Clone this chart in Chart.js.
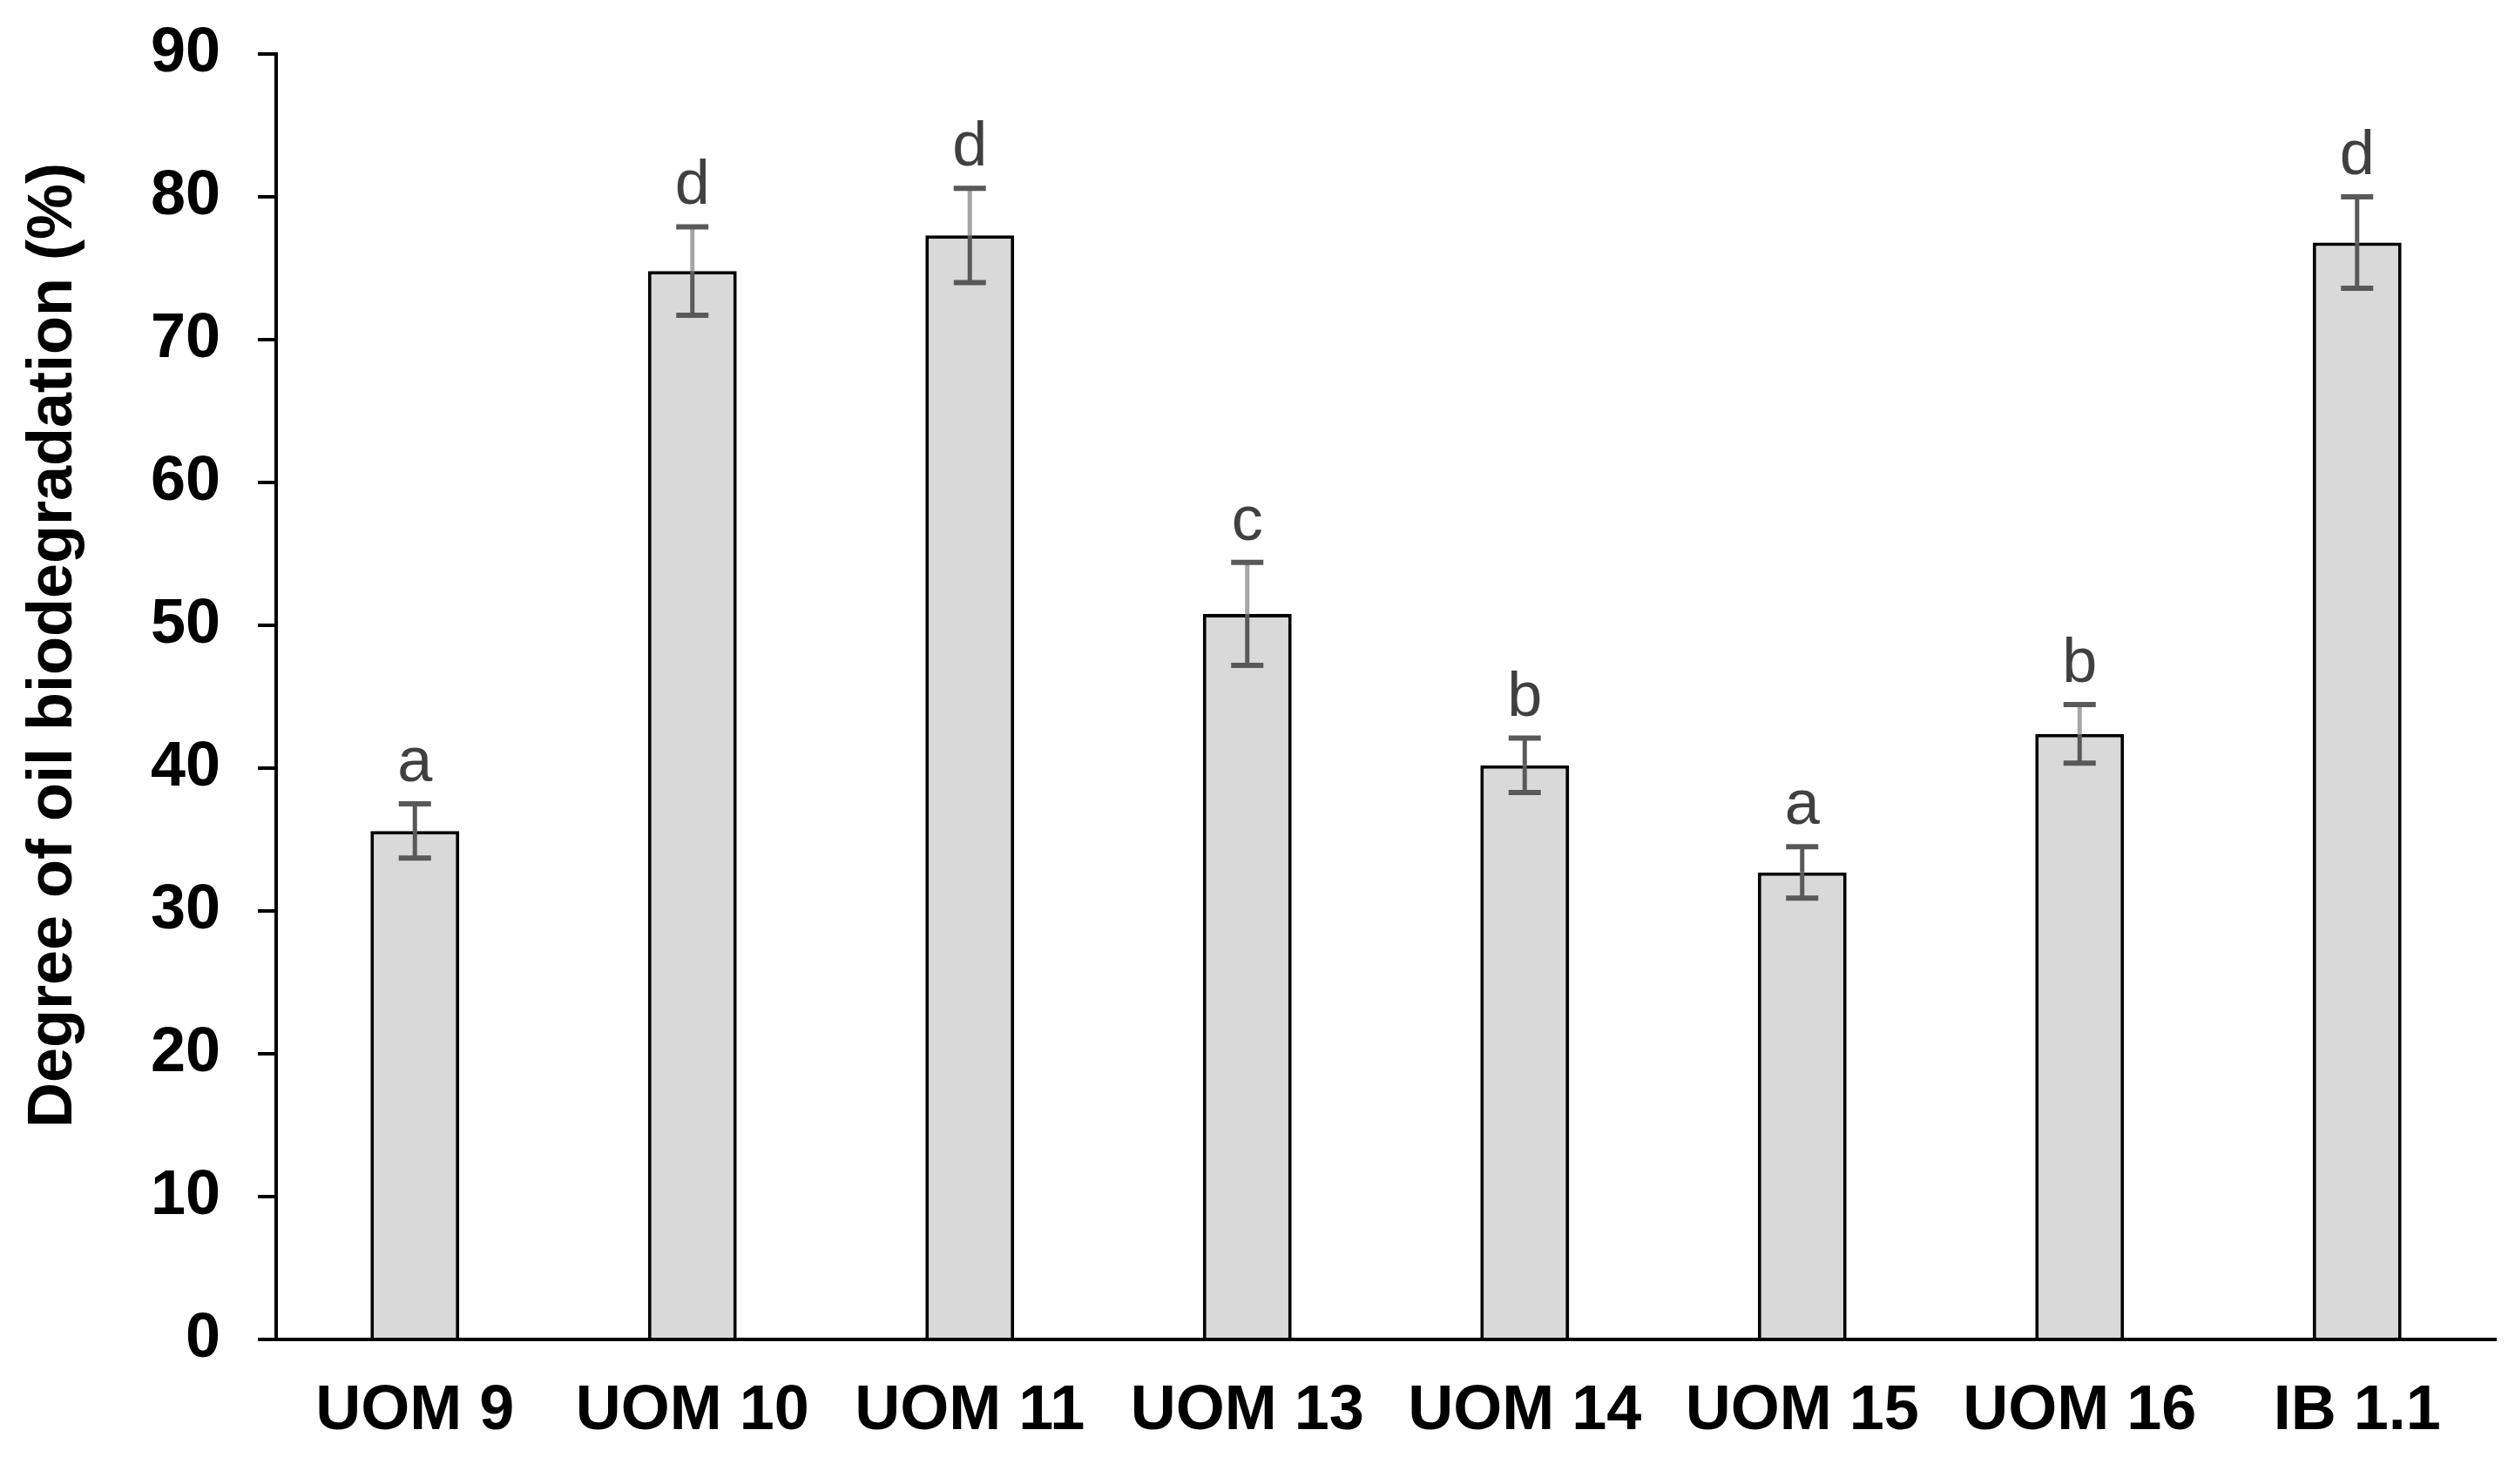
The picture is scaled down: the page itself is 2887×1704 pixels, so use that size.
<!DOCTYPE html>
<html lang="en">
<head>
    <meta charset="UTF-8">
    <title>Degree of oil biodegradation</title>
    <style>
        * { margin: 0; padding: 0; box-sizing: border-box; }
        body { background: #fff; width: 2887px; height: 1704px; overflow: hidden; }
        #chart { display: block; }
    </style>
</head>
<body>
    <canvas id="chart" width="2887" height="1704"></canvas>

    <script src="https://cdn.jsdelivr.net/npm/chart.js"></script>
    <script>
        // strains tested
        const strains = ['UOM 9', 'UOM 10', 'UOM 11', 'UOM 13', 'UOM 14', 'UOM 15', 'UOM 16', 'IB 1.1'];
        // mean degradation (%)
        const degradation = [35.6, 74.8, 77.3, 50.8, 40.2, 32.7, 42.4, 76.8];
        // error bar half-length (%)
        const errors = [1.9, 3.1, 3.3, 3.6, 1.9, 1.8, 2.05, 3.2];
        // significance letters
        const groups = ['a', 'd', 'd', 'c', 'b', 'a', 'b', 'd'];
        const yTicks = [0, 10, 20, 30, 40, 50, 60, 70, 80, 90];

        // upper part of the stem is lighter on some bars in the original
        const stemTopColors = ['#595959', '#a6a6a6', '#a6a6a6', '#a6a6a6', '#595959', '#595959', '#a6a6a6', '#595959'];

        const FONT = '"Liberation Sans", Arial, sans-serif';

        const errorBars = {
            id: 'errorBars',
            afterDatasetsDraw(chart) {
                const ctx = chart.ctx;
                const y = chart.scales.y;
                const meta = chart.getDatasetMeta(0);
                ctx.save();
                meta.data.forEach((bar, i) => {
                    const x = bar.x;
                    const top = y.getPixelForValue(degradation[i] + errors[i]);
                    const bot = y.getPixelForValue(degradation[i] - errors[i]);
                    const mid = y.getPixelForValue(degradation[i]);
                    ctx.lineWidth = 5;
                    // lower stem
                    ctx.strokeStyle = '#595959';
                    ctx.beginPath();
                    ctx.moveTo(x, mid);
                    ctx.lineTo(x, bot);
                    ctx.stroke();
                    // upper stem
                    ctx.strokeStyle = stemTopColors[i];
                    ctx.beginPath();
                    ctx.moveTo(x, mid);
                    ctx.lineTo(x, top);
                    ctx.stroke();
                    // caps
                    ctx.strokeStyle = '#595959';
                    ctx.lineWidth = 6;
                    ctx.beginPath();
                    ctx.moveTo(x - 18.5, top);
                    ctx.lineTo(x + 18.5, top);
                    ctx.moveTo(x - 18.5, bot);
                    ctx.lineTo(x + 18.5, bot);
                    ctx.stroke();

                    // letter above the bar
                    ctx.fillStyle = '#404040';
                    ctx.font = '72px ' + FONT;
                    ctx.textAlign = 'center';
                    ctx.textBaseline = 'alphabetic';
                    ctx.fillText(groups[i], x, top - 26);
                });
                ctx.restore();
            }
        };

        const yTitle = {
            id: 'yTitle',
            afterDraw(chart) {
                const ctx = chart.ctx;
                ctx.save();
                ctx.translate(62, 741);
                ctx.rotate(-Math.PI / 2);
                ctx.fillStyle = '#000';
                ctx.font = 'bold 72px ' + FONT;
                ctx.textAlign = 'center';
                ctx.textBaseline = 'middle';
                ctx.fillText('Degree of oil biodegradation (%)', 0, 0);
                ctx.restore();
            }
        };

        new Chart(document.getElementById('chart'), {
            type: 'bar',
            data: {
                labels: strains,
                datasets: [{
                    data: degradation,
                    backgroundColor: '#d9d9d9',
                    borderColor: '#000',
                    borderWidth: 4,
                    barPercentage: 0.32,
                    categoryPercentage: 1
                }]
            },
            options: {
                responsive: false,
                animation: false,
                layout: { padding: { top: 62, right: 22, bottom: 0, left: 0 } },
                plugins: {
                    legend: { display: false },
                    tooltip: { enabled: false }
                },
                scales: {
                    x: {
                        grid: { display: false, drawTicks: false },
                        border: { display: true, color: '#000', width: 4 },
                        ticks: {
                            color: '#000',
                            font: { family: FONT, size: 72, weight: 'bold' },
                            padding: 40,
                            maxRotation: 0,
                            autoSkip: false
                        },
                        afterFit(scale) { scale.height = 166; }
                    },
                    y: {
                        min: 0,
                        max: 90,
                        afterBuildTicks(scale) {
                            scale.ticks = yTicks.map(v => ({ value: v }));
                        },
                        grid: {
                            drawOnChartArea: false,
                            drawTicks: true,
                            tickLength: 21,
                            color: '#000',
                            lineWidth: 4
                        },
                        border: { display: true, color: '#000', width: 4 },
                        ticks: {
                            color: '#000',
                            font: { family: FONT, size: 72, weight: 'bold' },
                            padding: 43
                        },
                        afterFit(scale) {
                            scale.width = 317;
                            scale.paddingTop = 0;
                            scale.paddingBottom = 0;
                        }
                    }
                }
            },
            plugins: [errorBars, yTitle]
        });
    </script>
</body>
</html>
